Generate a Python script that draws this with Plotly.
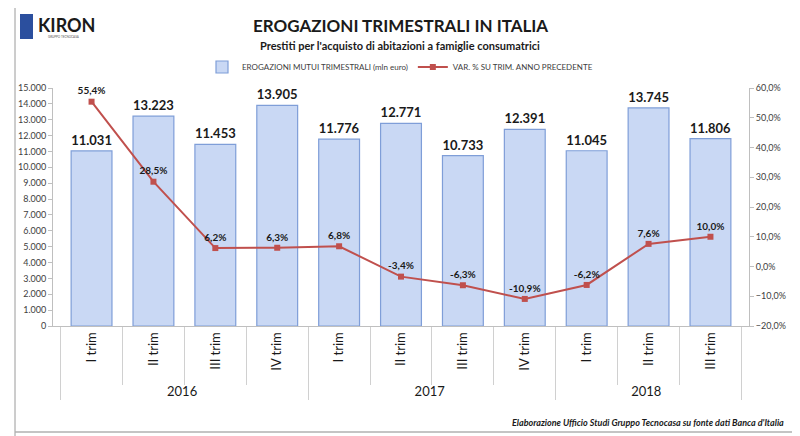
import plotly.graph_objects as go

years = ["2016"] * 4 + ["2017"] * 4 + ["2018"] * 3
quarters = ["I trim", "II trim", "III trim", "IV trim",
            "I trim", "II trim", "III trim", "IV trim",
            "I trim", "II trim", "III trim"]
erogazioni = [11031, 13223, 11453, 13905, 11776, 12771, 10733, 12391, 11045, 13745, 11806]
var_pct = [55.4, 28.5, 6.2, 6.3, 6.8, -3.4, -6.3, -10.9, -6.2, 7.6, 10.0]

W, H = 800, 436
O = 8  # page offset of the plot div (browser body margin)
# plot area in screen pixels
SX0, SX1, SY0, SY1 = 53, 749, 88, 326
L, T = SX0 - O, SY0 - O
R, B = W - (SX1 - O), H - (SY1 - O)
PW, PH = W - L - R, H - T - B


def px(x):
    return (x - O - L) / PW


def py(y):
    return (H - (y - O) - B) / PH


FONT = "Lato, Open Sans, sans-serif"

fig = go.Figure()
fig.add_trace(go.Bar(
    x=[years, quarters], y=erogazioni,
    name="EROGAZIONI MUTUI TRIMESTRALI (mln euro)",
    marker=dict(color="#c9d8f4", line=dict(color="#7f9ed8", width=1.2)),
    width=0.66,
    texttemplate="%{y:,.0f}", textposition="outside",
    textfont=dict(family=FONT, size=13, color="#1a1a1a", weight="bold"),
    cliponaxis=False,
))
fig.add_trace(go.Scatter(
    x=[years, quarters], y=var_pct, yaxis="y2",
    name="VAR. % SU TRIM. ANNO PRECEDENTE",
    mode="lines+markers+text",
    line=dict(color="#c0504d", width=2),
    marker=dict(color="#c0504d", size=6, symbol="square"),
    texttemplate="%{y:.1f}%", textposition="top center",
    textfont=dict(family=FONT, size=10, color="#1a1a1a", weight="bold"),
    cliponaxis=False,
))

fig.update_layout(
    width=W, height=H,
    margin=dict(l=L, r=R, t=T, b=B, autoexpand=False),
    paper_bgcolor="white", plot_bgcolor="white",
    separators=",.",
    font=dict(family=FONT, color="#404040"),
    showlegend=True,
    legend=dict(orientation="h", x=px(400), xanchor="center", y=py(67), yanchor="middle",
                font=dict(size=8, color="#404040"), bgcolor="rgba(0,0,0,0)"),
    bargap=0.34,
    xaxis=dict(
        type="multicategory", tickangle=-90,
        tickfont=dict(size=13, color="#1a1a1a"),
        showline=True, linecolor="#bfbfbf",
        ticks="outside", ticklen=58, tickcolor="#d0d0d0",
        dividercolor="#d0d0d0", dividerwidth=1,
        showgrid=False,
    ),
    yaxis=dict(
        range=[0, 15000], dtick=1000, tickformat=",d",
        tickfont=dict(size=9, color="#404040"),
        showline=True, linecolor="#bfbfbf", ticks="outside", ticklen=4,
        tickcolor="#bfbfbf", showgrid=False, zeroline=False,
    ),
    yaxis2=dict(
        overlaying="y", side="right",
        range=[-20, 60], dtick=10, tickformat=".1f", ticksuffix="%",
        tickfont=dict(size=9, color="#404040"),
        showline=True, linecolor="#bfbfbf", ticks="outside", ticklen=4,
        tickcolor="#bfbfbf", showgrid=False, zeroline=False,
    ),
)

annotations = [
    dict(text="<b>EROGAZIONI TRIMESTRALI IN ITALIA</b>",
         x=px(400), y=py(25), xref="paper", yref="paper", xanchor="center", yanchor="middle",
         showarrow=False, font=dict(family=FONT, size=17, color="#1a1a1a")),
    dict(text="<b>Prestiti per l'acquisto di abitazioni a famiglie consumatrici</b>",
         x=px(400), y=py(46), xref="paper", yref="paper", xanchor="center", yanchor="middle",
         showarrow=False, font=dict(family=FONT, size=11, color="#1a1a1a")),
    dict(text="<b><i>Elaborazione Ufficio Studi Gruppo Tecnocasa su fonte dati Banca d'Italia</i></b>",
         x=px(786), y=py(422), xref="paper", yref="paper", xanchor="right", yanchor="middle",
         showarrow=False, font=dict(family=FONT, size=9, color="#1a1a1a")),
    dict(text="<b>KIRON</b>", x=px(36), y=py(25), xref="paper", yref="paper",
         xanchor="left", yanchor="middle", showarrow=False,
         font=dict(family=FONT, size=18, color="#1a1a1a")),
    dict(text="GRUPPO TECNOCASA", x=px(64), y=py(37), xref="paper", yref="paper",
         xanchor="center", yanchor="middle", showarrow=False,
         font=dict(family=FONT, size=3, color="#555555")),
]
fig.update_layout(annotations=annotations)

shapes = [
    dict(type="rect", xref="paper", yref="paper", x0=px(20), x1=px(33), y0=py(39), y1=py(14),
         fillcolor="#2b4f9e", line=dict(width=0)),
    dict(type="line", xref="paper", yref="paper", x0=px(15), x1=px(15), y0=py(8), y1=py(436),
         line=dict(color="#9a9a9a", width=1)),
    dict(type="line", xref="paper", yref="paper", x0=px(15), x1=px(792), y0=py(432), y1=py(432),
         line=dict(color="#b0b0b0", width=1.5)),
]
fig.update_layout(shapes=shapes)

fig.write_html("out.html")
